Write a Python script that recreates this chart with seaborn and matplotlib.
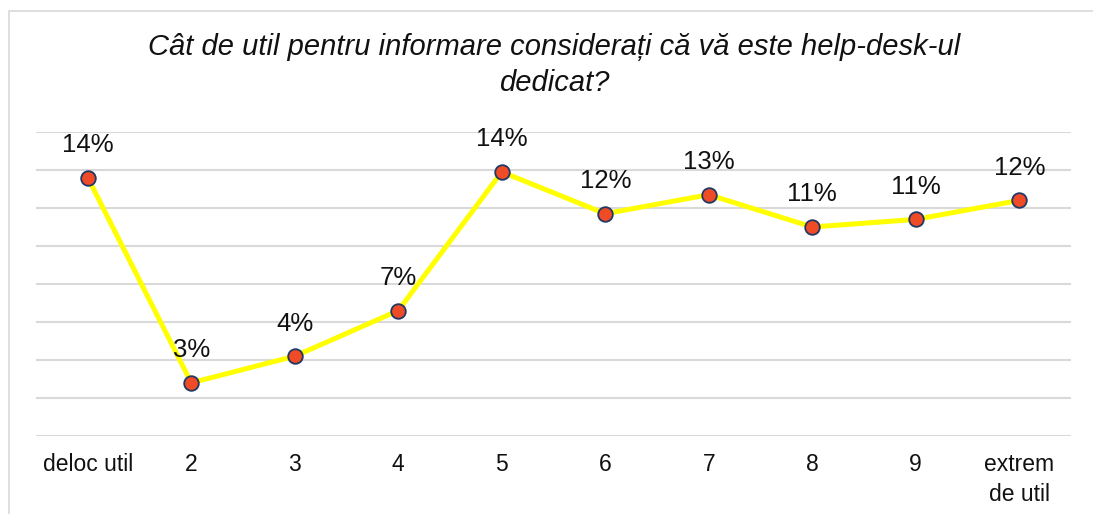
import matplotlib
matplotlib.use("Agg")
import matplotlib.pyplot as plt
import seaborn as sns
import pandas as pd
from matplotlib.patches import Rectangle

# date
categorii = ["deloc util", "2", "3", "4", "5", "6", "7", "8", "9", "extrem\nde util"]
procente = [13.6, 2.8, 4.2, 6.6, 13.9, 11.7, 12.7, 11.0, 11.4, 12.4]
titlu = "Cât de util pentru informare considerați că vă este help-desk-ul\ndedicat?"

sns.set_style("white")
plt.rcParams['font.family'] = ['Liberation Sans', 'DejaVu Sans']

df = pd.DataFrame({"cat": categorii, "val": procente})

fig = plt.figure(figsize=(10.93, 5.14), dpi=100)
ax = fig.add_axes([36 / 1093, 1 - 436 / 514, 1035 / 1093, 304 / 514])

# chenarul graficului
fig.patches.append(Rectangle((9 / 1093, -0.1), 1.2, 1 - 11 / 514 + 0.1,
                             transform=fig.transFigure, fill=False,
                             edgecolor="#D9D9D9", linewidth=1.2))

sns.lineplot(data=df, x="cat", y="val", ax=ax, sort=False, color="#FFFF00",
             linewidth=3.6, marker="o", markersize=10.5,
             markerfacecolor="#EE4B26", markeredgecolor="#1F3864",
             markeredgewidth=1.3, zorder=3)

for i, v in enumerate(procente):
    ax.annotate(f"{round(v)}%", (i, v), xytext=(0, 23.5), textcoords="offset points",
                ha="center", va="center", fontsize=18.5, color="#111111")

ax.set_xlim(-0.5, len(categorii) - 0.5)
ax.set_ylim(0, 16)
ax.set_yticks(range(0, 17, 2))
ax.set_yticklabels([])
ax.yaxis.grid(True, color="#D9D9D9", linewidth=1.5)
ax.set_axisbelow(True)
for s in ax.spines.values():
    s.set_visible(False)
ax.tick_params(axis="both", length=0)
ax.tick_params(axis="x", pad=12, labelsize=16.5, colors="#111111")
for t in ax.get_xticklabels():
    t.set_linespacing(1.4)
ax.set_xlabel("")
ax.set_ylabel("")

fig.text(554 / 1093, 1 - 65 / 514, titlu, ha="center", va="center",
         fontsize=21, style="italic", color="#111111", linespacing=1.38)

fig.savefig("out.png", dpi=100)
